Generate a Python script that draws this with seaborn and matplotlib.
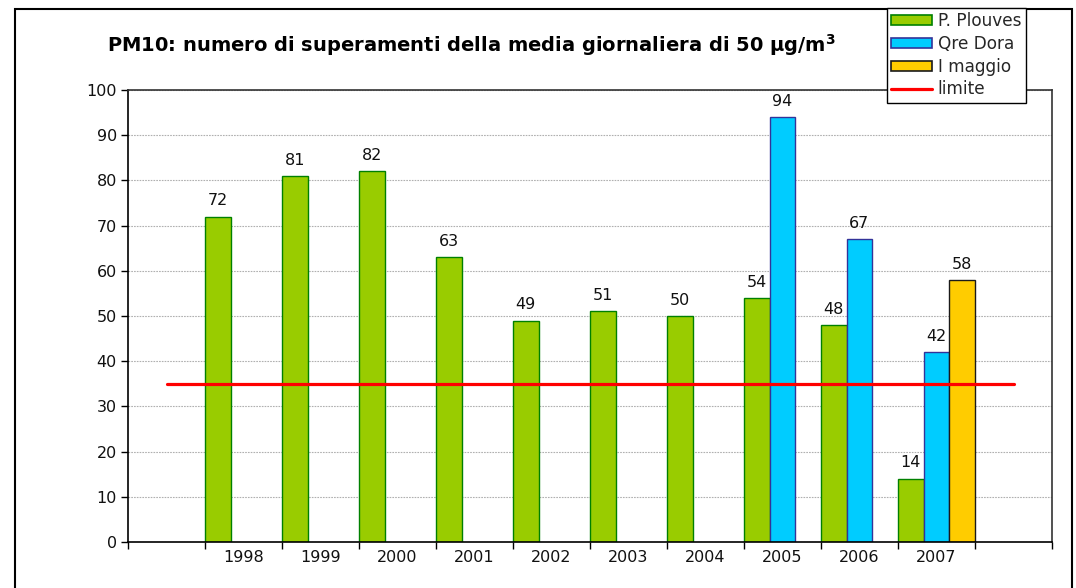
import numpy as np
import pandas as pd
import matplotlib
matplotlib.use("Agg")
import matplotlib.pyplot as plt
from matplotlib.patches import Patch, Rectangle
from matplotlib.lines import Line2D
import seaborn as sns

# ---- data ----
categories = ["", "1998", "1999", "2000", "2001", "2002", "2003", "2004", "2005", "2006", "2007", " "]
plouves_years = ["1998", "1999", "2000", "2001", "2002", "2003", "2004", "2005", "2006", "2007"]
plouves_vals = [72, 81, 82, 63, 49, 51, 50, 54, 48, 14]
dora_years = ["2005", "2006", "2007"]
dora_vals = [94, 67, 42]
maggio_years = ["2007"]
maggio_vals = [58]
limite_val = 35
series_names = ["P. Plouves", "Qre Dora", "I maggio"]
title = r"PM10: numero di superamenti della media giornaliera di 50 µg/m$^{\mathbf{3}}$"

rows = []
for y, v in zip(plouves_years, plouves_vals):
    rows.append(dict(anno=y, stazione=series_names[0], valore=v))
for y, v in zip(dora_years, dora_vals):
    rows.append(dict(anno=y, stazione=series_names[1], valore=v))
for y, v in zip(maggio_years, maggio_vals):
    rows.append(dict(anno=y, stazione=series_names[2], valore=v))
df = pd.DataFrame(rows)

fill_colors = ["#99CC00", "#00CCFF", "#FFCC00"]
edge_colors = ["#008000", "#333399", "#1a1a1a"]

sns.set_theme(style="white")
plt.rcParams["font.family"] = ["DejaVu Sans"]
plt.rcParams["mathtext.fontset"] = "dejavusans"

FS = 11.5

fig = plt.figure(figsize=(10.76, 5.88), dpi=100)
ax = fig.add_axes([128 / 1076, 1 - 542 / 588, (1052 - 128) / 1076, (542 - 90) / 588])

sns.barplot(data=df, x="anno", y="valore", hue="stazione", order=categories,
            hue_order=series_names, palette=fill_colors, width=1.0, gap=0,
            saturation=1, ax=ax, legend=False, errorbar=None)

for cont, ec in zip(ax.containers, edge_colors):
    for bar in cont:
        bar.set_edgecolor(ec)
        bar.set_linewidth(1.0)
    ax.bar_label(cont, fmt="%g", padding=6, fontsize=FS, color="#111111")

# limit line
lim_df = pd.DataFrame({"pos": np.arange(len(categories)), "lim": [limite_val] * len(categories)})
sns.lineplot(data=lim_df, x="pos", y="lim", color="#FF0000", linewidth=2.3, ax=ax, zorder=5)

ax.set_xlim(-0.5, len(categories) - 0.5)
ax.set_ylim(0, 100)
ax.set_yticks(np.arange(0, 101, 10))
ax.set_xticks(np.arange(-0.5, len(categories), 1.0))
ax.set_xticklabels([])
ax.set_xticks(np.arange(len(categories)), minor=True)
ax.set_xticklabels(categories, minor=True)
ax.tick_params(axis="x", which="major", length=5, width=1, color="black", direction="out", bottom=True)
ax.tick_params(axis="x", which="minor", length=0, labelsize=FS, pad=6, labelcolor="#111111")
ax.tick_params(axis="y", length=5, width=1, color="black", direction="out", left=True,
               labelsize=FS, labelcolor="#111111", pad=3)
ax.set_xlabel("")
ax.set_ylabel("")
ax.yaxis.grid(True, color="#b0b0b0", linestyle=(0, (1.5, 1)), linewidth=0.8)
ax.set_axisbelow(True)
for s in ax.spines.values():
    s.set_visible(True)
    s.set_color("black")
    s.set_linewidth(1.2)
ax.spines["top"].set_color("#333333")
ax.spines["right"].set_color("#333333")

# title
fig.text(107 / 1076, 1 - 45 / 588, title, ha="left", va="center",
         fontsize=14, fontweight="bold", color="black")

# outer chart frame
fig.patches.append(Rectangle((15 / 1076, -0.05), (1072 - 15) / 1076, 1.05 - 9 / 588,
                             transform=fig.transFigure, fill=False, edgecolor="black",
                             linewidth=1.5, zorder=0))

# legend
handles = [Patch(facecolor=fc, edgecolor=ec, linewidth=1.2) for fc, ec in zip(fill_colors, edge_colors)]
handles.append(Line2D([0], [0], color="#FF0000", linewidth=2.3))
labels = series_names + ["limite"]
leg = fig.legend(handles, labels, loc="upper left", bbox_to_anchor=(887 / 1076, 1 - 8 / 588),
                 bbox_transform=fig.transFigure, fontsize=12.2, frameon=True, fancybox=False,
                 shadow=False, borderaxespad=0, borderpad=0.25, handlelength=2.4,
                 handleheight=0.5, handletextpad=0.35, labelspacing=0.28)
leg.get_frame().set_edgecolor("black")
leg.get_frame().set_linewidth(1.0)
leg.get_frame().set_alpha(1)
leg.set_zorder(10)

fig.savefig("out.png", dpi=100)
